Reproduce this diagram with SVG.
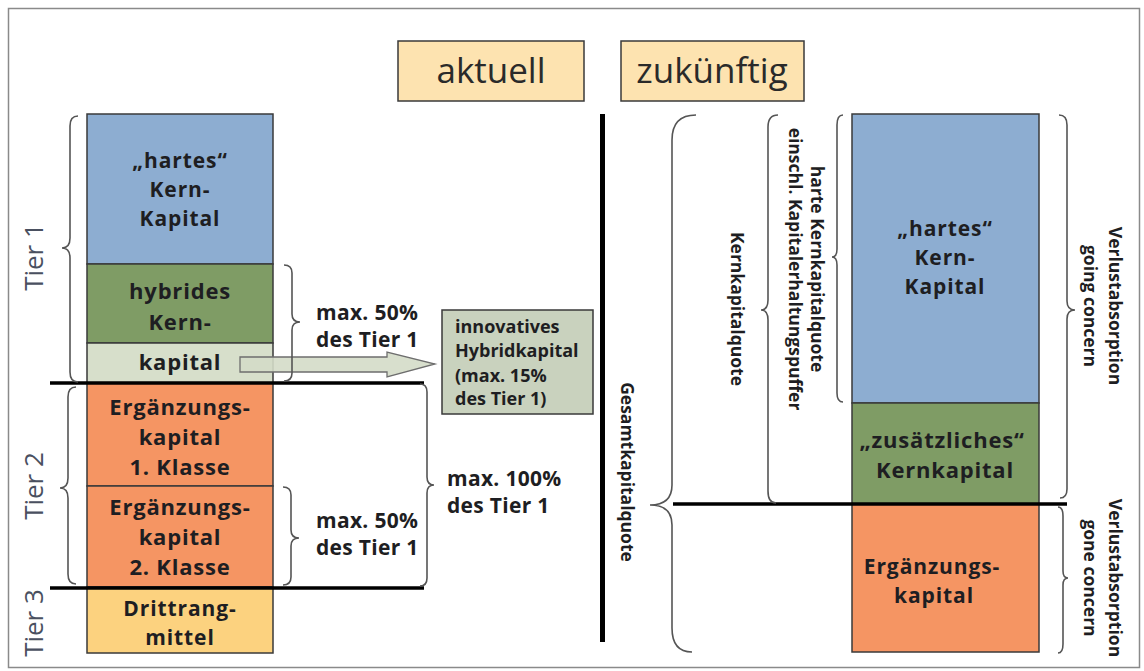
<svg xmlns="http://www.w3.org/2000/svg" width="1144" height="671" viewBox="0 0 1144 671">
<style>
.bx{stroke:#3a3a3a;stroke-width:1.5}
.t{font-family:"Open Sans","Noto Sans",sans-serif;font-weight:bold;fill:#1e1e22;text-anchor:middle}
.bt{font-size:22px;letter-spacing:0.8px}
.bs{font-size:21px;letter-spacing:0.9px}
.mx{font-size:21px;text-anchor:start;letter-spacing:0.3px}
.rt{font-size:17.5px}
.hd{font-family:"Open Sans","Noto Sans",sans-serif;font-size:35px;fill:#2a2a2a;text-anchor:middle}
.tier{font-family:"Open Sans","Noto Sans",sans-serif;font-size:26px;fill:#4a5060;text-anchor:middle}
.br{fill:none;stroke:#555;stroke-width:1.6}
.thick{stroke:#000;stroke-width:3.5}
</style>
<rect x="8.5" y="8.5" width="1131" height="659" fill="#fff" stroke="#8a8a8a" stroke-width="1.5"/>

<g id="hdr-aktuell"><rect class="bx" x="398" y="41" width="186" height="60" fill="#fde3b0"/><text class="hd" x="491" y="83">aktuell</text></g>
<g id="hdr-zukuenftig"><rect class="bx" x="621" y="41" width="183" height="60" fill="#fde3b0"/><text class="hd" x="712" y="83">zukünftig</text></g>

<g id="tier-labels">
<text class="tier" transform="translate(34,257) rotate(-90)" dy="0.35em">Tier 1</text>
<text class="tier" transform="translate(34,486) rotate(-90)" dy="0.35em">Tier 2</text>
<text class="tier" transform="translate(34,623) rotate(-90)" dy="0.35em">Tier 3</text>
</g>

<g id="l-hartes"><rect class="bx" x="87" y="114" width="186" height="150" fill="#8dadd1"/>
<text class="t bs" x="180" y="168">„hartes“</text><text class="t bs" x="180" y="197">Kern-</text><text class="t bs" x="180" y="226">Kapital</text></g>
<g id="l-hybrid"><rect class="bx" x="87" y="264" width="186" height="79" fill="#7f9c65"/>
<text class="t bt" x="180" y="299">hybrides</text><text class="t bt" x="180" y="330">Kern-</text></g>
<g id="l-kapital"><rect class="bx" x="87" y="343" width="186" height="40" fill="#d7dfcb"/>
<text class="t bt" x="180" y="370">kapital</text></g>
<g id="l-erg1"><rect class="bx" x="87" y="383" width="186" height="103" fill="#f59563"/>
<text class="t bt" x="180" y="415">Ergänzungs-</text><text class="t bt" x="180" y="445">kapital</text><text class="t bt" x="180" y="475">1. Klasse</text></g>
<g id="l-erg2"><rect class="bx" x="87" y="486" width="186" height="101" fill="#f59563"/>
<text class="t bt" x="180" y="515">Ergänzungs-</text><text class="t bt" x="180" y="545">kapital</text><text class="t bt" x="180" y="575">2. Klasse</text></g>
<g id="l-dritt"><rect class="bx" x="87" y="587" width="186" height="66" fill="#fcd27f"/>
<text class="t bs" x="180" y="616">Drittrang-</text><text class="t bs" x="180" y="645">mittel</text></g>

<g id="innovativ"><rect class="bx" x="442" y="310" width="151" height="104" fill="#c9d2be"/>
<text class="t" style="font-size:18px;text-anchor:start" x="455" y="333">innovatives</text>
<text class="t" style="font-size:18px;text-anchor:start" x="455" y="357">Hybridkapital</text>
<text class="t" style="font-size:18px;text-anchor:start" x="455" y="382">(max. 15%</text>
<text class="t" style="font-size:18px;text-anchor:start" x="455" y="405">des Tier 1)</text></g>

<g id="max-labels">
<text class="t mx" x="316" y="320">max. 50%</text><text class="t mx" x="316" y="347">des Tier 1</text>
<text class="t mx" x="316" y="528">max. 50%</text><text class="t mx" x="316" y="555">des Tier 1</text>
<text class="t mx" x="447" y="486">max. 100%</text><text class="t mx" x="447" y="513">des Tier 1</text>
</g>

<g id="r-hartes"><rect class="bx" x="852" y="114" width="187" height="289" fill="#8dadd1"/>
<text class="t bs" x="945" y="236">„hartes“</text><text class="t bs" x="945" y="265">Kern-</text><text class="t bs" x="945" y="294">Kapital</text></g>
<g id="r-zusaetzlich"><rect class="bx" x="852" y="403" width="187" height="101" fill="#7f9c65"/>
<text class="t bt" x="942" y="448">„zusätzliches“</text><text class="t bt" x="945" y="478">Kernkapital</text></g>
<g id="r-erg"><rect class="bx" x="852" y="504" width="187" height="148" fill="#f59563"/>
<text class="t bs" x="932" y="574">Ergänzungs-</text><text class="t bs" x="934" y="603">kapital</text></g>

<g id="quote-labels">
<text class="t rt" transform="translate(627,472) rotate(90)" dy="0.35em">Gesamtkapitalquote</text>
<text class="t rt" transform="translate(737,309) rotate(90)" dy="0.35em">Kernkapitalquote</text>
<text class="t rt" transform="translate(817,269) rotate(90)" dy="0.35em">harte Kernkapitalquote</text>
<text class="t rt" transform="translate(795,269) rotate(90)" dy="0.35em">einschl. Kapitalerhaltungspuffer</text>
<text class="t rt" transform="translate(1115,306) rotate(90)" dy="0.35em">Verlustabsorption</text>
<text class="t rt" transform="translate(1090,306) rotate(90)" dy="0.35em">going concern</text>
<text class="t rt" transform="translate(1115,578) rotate(90)" dy="0.35em">Verlustabsorption</text>
<text class="t rt" transform="translate(1090,578) rotate(90)" dy="0.35em">gone concern</text>
</g>

<g id="connectors">
<path d="M240,357 L387,357 L387,352 L435,364 L387,377 L387,372 L240,372 Z" fill="#d4dcc8" fill-opacity="0.9" stroke="#6e6e6e" stroke-width="1.3"/>
<line class="thick" x1="50" y1="383" x2="424" y2="383"/>
<line class="thick" x1="50" y1="588" x2="424" y2="588"/>
<line class="thick" x1="673" y1="504" x2="1067" y2="504"/>
<line x1="602.5" y1="114" x2="602.5" y2="642" stroke="#000" stroke-width="5"/>
<path class="br" d="M78,116 Q70,116 70,126 L70,238 Q70,248 62,248 Q70,248 70,258 L70,372 Q70,382 78,382"/>
<path class="br" d="M76,387 Q68,387 68,397 L68,478 Q68,488 60,488 Q68,488 68,498 L68,574 Q68,584 76,584"/>
<path class="br" d="M284,265 Q292,265 292,273 L292,314 Q292,322 300,322 Q292,322 292,330 L292,373 Q292,381 284,381"/>
<path class="br" d="M283,487 Q291,487 291,495 L291,530 Q291,538 299,538 Q291,538 291,546 L291,577 Q291,585 283,585"/>
<path class="br" d="M420,384 Q427,384 427,392 L427,477 Q427,485 434,485 Q427,485 427,493 L427,578 Q427,586 420,586"/>
<path class="br" d="M696,115 Q672,115 672,140 L672,485 Q672,505 650,505 Q672,505 672,525 L672,628 Q672,652 692,652"/>
<path class="br" d="M778,115 Q768,115 768,127 L768,300 Q768,310 761,310 Q768,310 768,320 L768,491 Q768,503 776,503"/>
<path class="br" d="M843,115 Q837,115 837,125 L837,249 Q837,257 832,257 Q837,257 837,265 L837,393 Q837,402 843,402"/>
<path class="br" d="M1059,115 Q1067,115 1067,125 L1067,301 Q1067,310 1075,310 Q1067,310 1067,319 L1067,489 Q1067,498 1060,498"/>
<path class="br" d="M1058,507 Q1063,507 1063,516 L1063,571 Q1063,578 1068,578 Q1063,578 1063,585 L1063,644 Q1063,653 1058,653"/>
</g>
</svg>
